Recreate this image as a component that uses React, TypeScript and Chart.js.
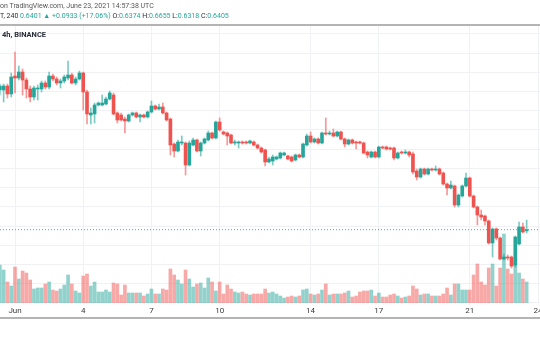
import React, { useEffect, useRef } from 'react';
import { Chart, registerables } from 'chart.js';

Chart.register(...registerables);

// 4h candles, index 0 = Jun 1 00:00 UTC, first candle = May 31 08:00 UTC
const FIRST_INDEX = -4;

const opens = [
  1.0042, 1.0042, 1.0146, 0.9938, 1.0406, 1.0354, 1.0510, 1.0302, 1.0068, 0.9859,
  1.0068, 1.0068, 1.0224, 1.0120, 1.0406, 1.0328, 1.0224, 1.0276, 1.0354, 1.0432,
  1.0224, 1.0328, 1.0484, 0.9990, 0.9391, 0.9417, 0.9651, 0.9651, 0.9677, 0.9807,
  0.9911, 0.9443, 0.9391, 0.9286, 0.9234, 0.9391, 0.9443, 0.9339, 0.9391, 0.9339,
  0.9469, 0.9625, 0.9547, 0.9599, 0.9443, 0.9286, 0.8635, 0.8453, 0.8661, 0.8661,
  0.8089, 0.8609, 0.8740, 0.8453, 0.8661, 0.8740, 0.8922, 0.8792, 0.9208, 0.8948,
  0.8922, 0.8870, 0.8661, 0.8661, 0.8688, 0.8688, 0.8661, 0.8688, 0.8609, 0.8531,
  0.8479, 0.8167, 0.8193, 0.8245, 0.8271, 0.8349, 0.8323, 0.8297, 0.8219, 0.8349,
  0.8297, 0.8609, 0.8844, 0.8688, 0.8766, 0.8661, 0.8922, 0.8896, 0.8922, 0.8844,
  0.8948, 0.8766, 0.8635, 0.8740, 0.8688, 0.8688, 0.8661, 0.8427, 0.8297, 0.8427,
  0.8297, 0.8557, 0.8557, 0.8531, 0.8531, 0.8271, 0.8427, 0.8401, 0.8427, 0.8375,
  0.7932, 0.7776, 0.7984, 0.7854, 0.7984, 0.7958, 0.7984, 0.7880, 0.7594, 0.7490,
  0.7542, 0.7047, 0.7281, 0.7542, 0.7750, 0.7281, 0.6995, 0.6786, 0.6760, 0.6630,
  0.6057, 0.6422, 0.6188, 0.5641, 0.5693, 0.5693, 0.5484, 0.6031, 0.6474, 0.6374,
];

const closes = [
  1.0146, 1.0146, 0.9938, 1.0380, 1.0354, 1.0510, 1.0302, 1.0068, 0.9859, 1.0094,
  1.0094, 1.0224, 1.0120, 1.0406, 1.0328, 1.0224, 1.0276, 1.0380, 1.0432, 1.0224,
  1.0328, 1.0484, 0.9990, 0.9417, 0.9443, 0.9651, 0.9703, 0.9703, 0.9807, 0.9964,
  0.9417, 0.9260, 0.9260, 0.9234, 0.9391, 0.9443, 0.9339, 0.9391, 0.9339, 0.9469,
  0.9625, 0.9547, 0.9599, 0.9443, 0.9260, 0.8609, 0.8453, 0.8688, 0.8688, 0.8089,
  0.8661, 0.8740, 0.8453, 0.8661, 0.8766, 0.8922, 0.8792, 0.9208, 0.9000, 0.8896,
  0.8844, 0.8661, 0.8688, 0.8688, 0.8661, 0.8661, 0.8714, 0.8609, 0.8531, 0.8427,
  0.8167, 0.8245, 0.8297, 0.8297, 0.8401, 0.8401, 0.8245, 0.8193, 0.8349, 0.8297,
  0.8635, 0.8844, 0.8688, 0.8766, 0.8661, 0.8922, 0.8896, 0.8922, 0.8844, 0.8948,
  0.8766, 0.8635, 0.8740, 0.8661, 0.8661, 0.8661, 0.8401, 0.8349, 0.8427, 0.8297,
  0.8557, 0.8531, 0.8505, 0.8505, 0.8271, 0.8401, 0.8401, 0.8427, 0.8349, 0.7906,
  0.7776, 0.7984, 0.7854, 0.7984, 0.7958, 0.7984, 0.7854, 0.7594, 0.7490, 0.7568,
  0.7047, 0.7307, 0.7542, 0.7750, 0.7281, 0.6995, 0.6786, 0.6734, 0.6630, 0.6057,
  0.6422, 0.6188, 0.5641, 0.5693, 0.5667, 0.5458, 0.6214, 0.6474, 0.6344, 0.6405,
];

const highs = [
  1.0198, 1.0198, 1.0198, 1.0484, 1.1031, 1.0667, 1.0589, 1.0354, 1.0146, 1.0146,
  1.0172, 1.0276, 1.0276, 1.0510, 1.0458, 1.0380, 1.0328, 1.0432, 1.0797, 1.0484,
  1.0380, 1.0536, 1.0510, 1.0042, 0.9573, 0.9703, 0.9729, 0.9911, 0.9859, 1.0016,
  0.9964, 0.9469, 0.9443, 0.9339, 0.9417, 0.9469, 0.9469, 0.9417, 0.9417, 0.9495,
  0.9755, 0.9651, 0.9677, 0.9703, 0.9469, 0.9313, 0.8661, 0.8740, 0.8844, 0.8688,
  0.8714, 0.8792, 0.8766, 0.8688, 0.8792, 0.8974, 0.8948, 0.9234, 0.9313, 0.8974,
  0.8948, 0.8896, 0.8740, 0.8714, 0.8714, 0.8714, 0.8740, 0.8714, 0.8635, 0.8557,
  0.8505, 0.8297, 0.8349, 0.8323, 0.8427, 0.8427, 0.8349, 0.8323, 0.8375, 0.8375,
  0.8661, 0.8896, 0.8948, 0.8792, 0.8792, 0.8948, 0.9313, 0.8974, 0.9026, 0.8974,
  0.8974, 0.8792, 0.8766, 0.8766, 0.8714, 0.8714, 0.8688, 0.8453, 0.8453, 0.8453,
  0.8583, 0.8583, 0.8583, 0.8557, 0.8557, 0.8427, 0.8453, 0.8479, 0.8453, 0.8427,
  0.7984, 0.8010, 0.8010, 0.8010, 0.8010, 0.8063, 0.8010, 0.7906, 0.7620, 0.7672,
  0.7568, 0.7333, 0.7568, 0.7880, 0.7776, 0.7307, 0.7021, 0.6917, 0.6786, 0.6656,
  0.6448, 0.6448, 0.6214, 0.5771, 0.5745, 0.5719, 0.6240, 0.6604, 0.6578, 0.6655,
];

const lows = [
  0.9911, 0.9729, 0.9833, 0.9859, 0.9964, 1.0302, 0.9911, 0.9833, 0.9729, 0.9781,
  0.9781, 0.9990, 1.0068, 1.0068, 1.0276, 1.0172, 1.0094, 1.0224, 1.0302, 1.0198,
  1.0172, 1.0302, 0.9521, 0.9156, 0.9156, 0.9182, 0.9625, 0.9625, 0.9651, 0.9781,
  0.9391, 0.9182, 0.9234, 0.8922, 0.9208, 0.9365, 0.9313, 0.9208, 0.9313, 0.9313,
  0.9443, 0.9521, 0.9521, 0.9417, 0.9234, 0.8349, 0.8297, 0.8427, 0.8609, 0.7828,
  0.8063, 0.8583, 0.8427, 0.8323, 0.8635, 0.8714, 0.8766, 0.8766, 0.8974, 0.8870,
  0.8609, 0.8635, 0.8609, 0.8531, 0.8635, 0.8635, 0.8635, 0.8583, 0.8505, 0.8401,
  0.8063, 0.8141, 0.8089, 0.8219, 0.8245, 0.8323, 0.8219, 0.8167, 0.8193, 0.8271,
  0.8271, 0.8583, 0.8661, 0.8661, 0.8635, 0.8635, 0.8870, 0.8870, 0.8818, 0.8818,
  0.8740, 0.8557, 0.8609, 0.8635, 0.8505, 0.8635, 0.8375, 0.8271, 0.8271, 0.8271,
  0.8271, 0.8505, 0.8479, 0.8479, 0.8219, 0.8245, 0.8375, 0.8375, 0.8297, 0.7854,
  0.7698, 0.7750, 0.7828, 0.7828, 0.7932, 0.7932, 0.7828, 0.7568, 0.7307, 0.7464,
  0.6995, 0.6995, 0.7255, 0.7516, 0.7255, 0.6969, 0.6526, 0.6656, 0.6526, 0.6031,
  0.5693, 0.6135, 0.5615, 0.5615, 0.5615, 0.5406, 0.5432, 0.6005, 0.6318, 0.6318,
];

// volume, millions
const volumes = [
  152, 132, 84, 68, 144, 96, 128, 120, 92, 56,
  60, 60, 76, 84, 52, 48, 56, 72, 112, 76,
  48, 40, 108, 116, 68, 84, 44, 44, 52, 44,
  80, 76, 32, 72, 40, 40, 40, 40, 28, 36,
  56, 36, 36, 56, 52, 136, 112, 92, 76, 132,
  96, 64, 76, 80, 60, 100, 84, 48, 84, 36,
  72, 56, 44, 40, 44, 36, 32, 36, 36, 36,
  56, 40, 44, 36, 28, 20, 24, 28, 24, 28,
  52, 56, 36, 32, 36, 52, 76, 32, 36, 36,
  36, 40, 48, 24, 28, 44, 48, 48, 52, 28,
  40, 24, 24, 32, 36, 28, 20, 24, 28, 68,
  56, 32, 36, 36, 28, 28, 28, 36, 60, 32,
  76, 76, 52, 52, 52, 112, 156, 84, 72, 140,
  156, 68, 140, 276, 136, 116, 176, 120, 96, 84,
];

const tickValues = [0, 18, 36, 54, 78, 96, 120, 138];
const tickLabels = ['Jun', '4', '7', '10', '14', '17', '21', '24'];

const X_MIN = -3.958;
const X_MAX = 143.8;
const Y_MIN = 0.4495;
const Y_MAX = 1.1708;
const VOL_MAX = 1108;

const UP = '#26a69a';
const DOWN = '#ef5350';
const UP_WICK = 'rgba(38,166,154,0.6)';
const DOWN_WICK = 'rgba(239,83,80,0.6)';
const UP_VOL = 'rgba(38,166,154,0.5)';
const DOWN_VOL = 'rgba(239,83,80,0.5)';
const PRICE_LINE = 'rgba(38,166,154,0.85)';
const GRID = '#f0f1f4';
const FONT = 'Roboto, "Noto Sans", sans-serif';

function CandleChart() {
  const ref = useRef<HTMLCanvasElement | null>(null);
  useEffect(() => {
    if (!ref.current) return;
    const xs = opens.map((_, k) => FIRST_INDEX + k);
    const up = opens.map((o, k) => closes[k] >= o);
    const last = closes[closes.length - 1];
    const chart = new Chart(ref.current, {
      type: 'bar',
      data: {
        datasets: [
          {
            type: 'line',
            label: 'last',
            data: [
              { x: X_MIN, y: last },
              { x: X_MAX, y: last },
            ],
            borderColor: PRICE_LINE,
            backgroundColor: PRICE_LINE,
            borderWidth: 1,
            borderDash: [1, 2],
            pointRadius: 0,
            fill: false,
            yAxisID: 'y',
            order: 0,
          } as any,
          {
            label: 'body',
            data: xs.map((x, k) => ({ x, y: [opens[k], closes[k]] })),
            backgroundColor: up.map((u) => (u ? UP : DOWN)),
            barThickness: 3,
            minBarLength: 1,
            grouped: false,
            yAxisID: 'y',
            order: 1,
          } as any,
          {
            label: 'wick',
            data: xs.map((x, k) => ({ x, y: [lows[k], highs[k]] })),
            backgroundColor: up.map((u) => (u ? UP_WICK : DOWN_WICK)),
            barThickness: 1,
            grouped: false,
            yAxisID: 'y',
            order: 2,
          } as any,
          {
            label: 'volume',
            data: xs.map((x, k) => ({ x, y: volumes[k] })),
            backgroundColor: up.map((u) => (u ? UP_VOL : DOWN_VOL)),
            barThickness: 3,
            grouped: false,
            yAxisID: 'yv',
            order: 3,
          } as any,
        ],
      },
      options: {
        animation: false,
        responsive: false,
        maintainAspectRatio: false,
        layout: { padding: { top: 26, left: 0, right: 0, bottom: 0 } },
        plugins: {
          legend: { display: false },
          tooltip: { enabled: false },
        },
        scales: {
          x: {
            type: 'linear',
            min: X_MIN,
            max: X_MAX,
            offset: false,
            grid: { color: GRID, offset: false, drawTicks: false },
            border: { display: false },
            afterBuildTicks: (s: any) => {
              s.ticks = tickValues.map((v) => ({ value: v }));
            },
            afterFit: (s: any) => {
              s.height = 37;
            },
            ticks: {
              autoSkip: false,
              maxRotation: 0,
              padding: 3,
              color: '#3a3a3a',
              font: { family: FONT, size: 8 },
              callback: (v: any) => {
                const i = tickValues.indexOf(Number(v));
                return i >= 0 ? tickLabels[i] : '';
              },
            },
          },
          y: {
            type: 'linear',
            position: 'left',
            min: Y_MIN,
            max: Y_MAX,
            grid: { color: GRID, drawTicks: false },
            border: { display: false },
            ticks: { display: false, stepSize: 0.05, includeBounds: false },
            afterFit: (s: any) => {
              s.width = 0;
            },
          },
          yv: {
            type: 'linear',
            position: 'right',
            min: 0,
            max: VOL_MAX,
            display: false,
          },
        },
      } as any,
    });
    return () => chart.destroy();
  }, []);
  return (
    <canvas
      ref={ref}
      width={560}
      height={340}
      style={{ position: 'absolute', left: 0, top: 0, width: 560, height: 340 }}
    />
  );
}

export default function App() {
  const txt: React.CSSProperties = {
    position: 'absolute',
    left: 0,
    whiteSpace: 'nowrap',
    fontFamily: FONT,
    fontSize: 7,
    lineHeight: '9px',
  };
  const dark = { color: '#2a2e39' };
  const val = { color: UP };
  return (
    <div
      style={{
        position: 'fixed',
        left: 0,
        top: 0,
        width: 540,
        height: 340,
        overflow: 'hidden',
        background: '#ffffff',
      }}
    >
      <CandleChart />
      <div style={{ ...txt, top: 2, color: '#555555' }}>
        on TradingView.com, June 23, 2021 14:57:38 UTC
      </div>
      <div style={{ ...txt, top: 12 }}>
        <span style={dark}>T, 240 </span>
        <span style={val}>0.6401 ▲ +0.0933 (+17.06%) </span>
        <span style={dark}>O:</span>
        <span style={val}>0.6374 </span>
        <span style={dark}>H:</span>
        <span style={val}>0.6655 </span>
        <span style={dark}>L:</span>
        <span style={val}>0.6318 </span>
        <span style={dark}>C:</span>
        <span style={val}>0.6405</span>
      </div>
      <div
        style={{ position: 'absolute', left: 0, top: 24, width: 540, height: 2, background: '#b4b4b4' }}
      />
      <div style={{ ...txt, top: 30, left: 2, fontWeight: 700, color: '#2a2e39', fontSize: 7.5 }}>
        4h, BINANCE
      </div>
      <div
        style={{ position: 'absolute', left: 0, top: 317, width: 540, height: 2, background: '#b4b4b4' }}
      />
    </div>
  );
}
